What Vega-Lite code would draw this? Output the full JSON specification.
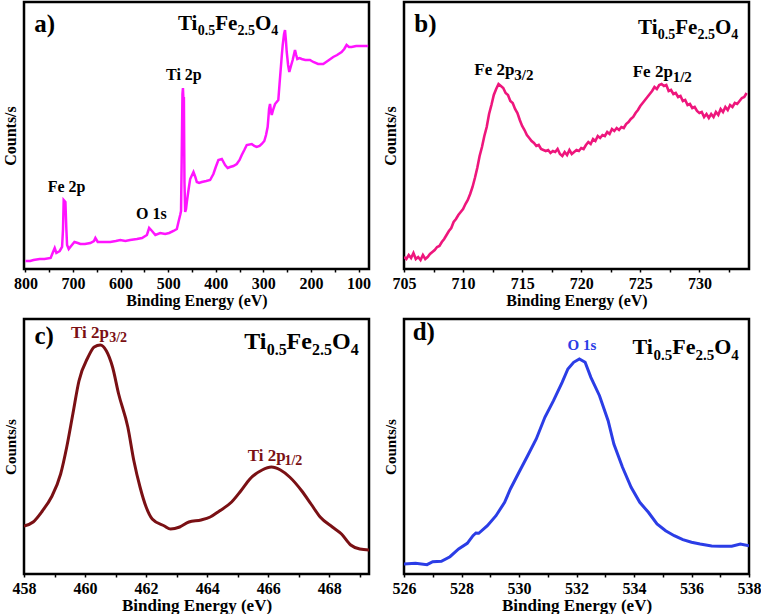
{
  "$schema": "https://vega.github.io/schema/vega-lite/v6.json",
  "background": "white",
  "padding": {"left": 0, "top": 0, "right": 0, "bottom": 0},
  "datasets": {
    "spectra": [
      {"panel": "a", "energy": 800, "counts": 8}, {"panel": "a", "energy": 790, "counts": 8}, {"panel": "a", "energy": 783, "counts": 9}, {"panel": "a", "energy": 770, "counts": 10},
      {"panel": "a", "energy": 760, "counts": 10}, {"panel": "a", "energy": 747, "counts": 11}, {"panel": "a", "energy": 742, "counts": 17}, {"panel": "a", "energy": 738.5, "counts": 21},
      {"panel": "a", "energy": 735, "counts": 16}, {"panel": "a", "energy": 728, "counts": 18}, {"panel": "a", "energy": 723, "counts": 22}, {"panel": "a", "energy": 721, "counts": 40},
      {"panel": "a", "energy": 719.6, "counts": 69}, {"panel": "a", "energy": 716, "counts": 67}, {"panel": "a", "energy": 714, "counts": 40}, {"panel": "a", "energy": 712.5, "counts": 24},
      {"panel": "a", "energy": 709, "counts": 20}, {"panel": "a", "energy": 704, "counts": 23}, {"panel": "a", "energy": 697, "counts": 27}, {"panel": "a", "energy": 690, "counts": 26},
      {"panel": "a", "energy": 684.6, "counts": 25}, {"panel": "a", "energy": 675, "counts": 25}, {"panel": "a", "energy": 663.6, "counts": 26}, {"panel": "a", "energy": 656, "counts": 28},
      {"panel": "a", "energy": 653, "counts": 31}, {"panel": "a", "energy": 648, "counts": 27}, {"panel": "a", "energy": 635, "counts": 27}, {"panel": "a", "energy": 621.7, "counts": 27},
      {"panel": "a", "energy": 610, "counts": 28}, {"panel": "a", "energy": 600.7, "counts": 29}, {"panel": "a", "energy": 590, "counts": 28}, {"panel": "a", "energy": 580, "counts": 29},
      {"panel": "a", "energy": 565.7, "counts": 30}, {"panel": "a", "energy": 555, "counts": 31}, {"panel": "a", "energy": 544.7, "counts": 34}, {"panel": "a", "energy": 540, "counts": 41},
      {"panel": "a", "energy": 534, "counts": 38}, {"panel": "a", "energy": 527, "counts": 34}, {"panel": "a", "energy": 516.8, "counts": 36}, {"panel": "a", "energy": 506.3, "counts": 35},
      {"panel": "a", "energy": 498, "counts": 36}, {"panel": "a", "energy": 488.9, "counts": 38}, {"panel": "a", "energy": 481.8, "counts": 40}, {"panel": "a", "energy": 478.4, "counts": 47},
      {"panel": "a", "energy": 474.8, "counts": 54}, {"panel": "a", "energy": 473, "counts": 58}, {"panel": "a", "energy": 471.7, "counts": 107}, {"panel": "a", "energy": 470, "counts": 175},
      {"panel": "a", "energy": 469, "counts": 181}, {"panel": "a", "energy": 468, "counts": 170}, {"panel": "a", "energy": 467, "counts": 172}, {"panel": "a", "energy": 466.3, "counts": 120},
      {"panel": "a", "energy": 465.8, "counts": 87}, {"panel": "a", "energy": 464.3, "counts": 57}, {"panel": "a", "energy": 462.5, "counts": 60}, {"panel": "a", "energy": 460.8, "counts": 67},
      {"panel": "a", "energy": 457, "counts": 80}, {"panel": "a", "energy": 453.8, "counts": 90}, {"panel": "a", "energy": 446.9, "counts": 97}, {"panel": "a", "energy": 443, "counts": 92},
      {"panel": "a", "energy": 439.8, "counts": 87}, {"panel": "a", "energy": 435, "counts": 86}, {"panel": "a", "energy": 429.3, "counts": 87}, {"panel": "a", "energy": 420, "counts": 88},
      {"panel": "a", "energy": 411.9, "counts": 89}, {"panel": "a", "energy": 405, "counts": 95}, {"panel": "a", "energy": 400, "counts": 102}, {"panel": "a", "energy": 394.5, "counts": 109},
      {"panel": "a", "energy": 387.3, "counts": 110}, {"panel": "a", "energy": 380.4, "counts": 104}, {"panel": "a", "energy": 375, "counts": 101}, {"panel": "a", "energy": 370, "counts": 102},
      {"panel": "a", "energy": 363, "counts": 103}, {"panel": "a", "energy": 355.9, "counts": 105}, {"panel": "a", "energy": 350, "counts": 109}, {"panel": "a", "energy": 345.4, "counts": 114},
      {"panel": "a", "energy": 340, "counts": 119}, {"panel": "a", "energy": 334.9, "counts": 124}, {"panel": "a", "energy": 324.4, "counts": 125}, {"panel": "a", "energy": 319, "counts": 123},
      {"panel": "a", "energy": 313.9, "counts": 122}, {"panel": "a", "energy": 308, "counts": 123}, {"panel": "a", "energy": 303.4, "counts": 125}, {"panel": "a", "energy": 298, "counts": 128},
      {"panel": "a", "energy": 294.4, "counts": 134}, {"panel": "a", "energy": 291, "counts": 142}, {"panel": "a", "energy": 289.6, "counts": 150}, {"panel": "a", "energy": 288, "counts": 160},
      {"panel": "a", "energy": 286, "counts": 165}, {"panel": "a", "energy": 284, "counts": 158}, {"panel": "a", "energy": 282.4, "counts": 154}, {"panel": "a", "energy": 279, "counts": 160},
      {"panel": "a", "energy": 275.5, "counts": 165}, {"panel": "a", "energy": 272, "counts": 167}, {"panel": "a", "energy": 268.6, "counts": 169}, {"panel": "a", "energy": 266, "counts": 185},
      {"panel": "a", "energy": 263.5, "counts": 200}, {"panel": "a", "energy": 261, "counts": 215}, {"panel": "a", "energy": 259.3, "counts": 224}, {"panel": "a", "energy": 256.5, "counts": 235},
      {"panel": "a", "energy": 254.5, "counts": 239}, {"panel": "a", "energy": 252.5, "counts": 228}, {"panel": "a", "energy": 250.9, "counts": 217}, {"panel": "a", "energy": 248, "counts": 204},
      {"panel": "a", "energy": 245.5, "counts": 197}, {"panel": "a", "energy": 242, "counts": 203}, {"panel": "a", "energy": 238.4, "counts": 209}, {"panel": "a", "energy": 235.5, "counts": 215},
      {"panel": "a", "energy": 233.5, "counts": 219}, {"panel": "a", "energy": 231, "counts": 214}, {"panel": "a", "energy": 228.7, "counts": 210}, {"panel": "a", "energy": 224, "counts": 211},
      {"panel": "a", "energy": 219.5, "counts": 210}, {"panel": "a", "energy": 212, "counts": 209}, {"panel": "a", "energy": 202.1, "counts": 209}, {"panel": "a", "energy": 195, "counts": 207},
      {"panel": "a", "energy": 185, "counts": 205}, {"panel": "a", "energy": 174.2, "counts": 205}, {"panel": "a", "energy": 165, "counts": 208}, {"panel": "a", "energy": 153.2, "counts": 212},
      {"panel": "a", "energy": 145, "counts": 214}, {"panel": "a", "energy": 135.6, "counts": 217}, {"panel": "a", "energy": 130, "counts": 220}, {"panel": "a", "energy": 125.1, "counts": 224},
      {"panel": "a", "energy": 120, "counts": 222}, {"panel": "a", "energy": 114.6, "counts": 222}, {"panel": "a", "energy": 105, "counts": 223}, {"panel": "a", "energy": 97.2, "counts": 223},
      {"panel": "a", "energy": 88, "counts": 223}, {"panel": "a", "energy": 79.8, "counts": 223},

      {"panel": "b", "energy": 705.0, "counts": 12}, {"panel": "b", "energy": 705.2, "counts": 10}, {"panel": "b", "energy": 705.4, "counts": 14}, {"panel": "b", "energy": 705.6, "counts": 11},
      {"panel": "b", "energy": 705.8, "counts": 16}, {"panel": "b", "energy": 706.0, "counts": 10}, {"panel": "b", "energy": 706.2, "counts": 12}, {"panel": "b", "energy": 706.4, "counts": 9},
      {"panel": "b", "energy": 706.6, "counts": 14}, {"panel": "b", "energy": 706.8, "counts": 10}, {"panel": "b", "energy": 707.0, "counts": 12}, {"panel": "b", "energy": 707.2, "counts": 15},
      {"panel": "b", "energy": 707.4, "counts": 17}, {"panel": "b", "energy": 707.6, "counts": 19}, {"panel": "b", "energy": 707.8, "counts": 22}, {"panel": "b", "energy": 708.0, "counts": 23},
      {"panel": "b", "energy": 708.2, "counts": 27}, {"panel": "b", "energy": 708.4, "counts": 30}, {"panel": "b", "energy": 708.6, "counts": 34}, {"panel": "b", "energy": 708.8, "counts": 38},
      {"panel": "b", "energy": 709.0, "counts": 41}, {"panel": "b", "energy": 709.2, "counts": 47}, {"panel": "b", "energy": 709.4, "counts": 50}, {"panel": "b", "energy": 709.6, "counts": 54},
      {"panel": "b", "energy": 709.8, "counts": 57}, {"panel": "b", "energy": 710.0, "counts": 60}, {"panel": "b", "energy": 710.2, "counts": 65}, {"panel": "b", "energy": 710.4, "counts": 69},
      {"panel": "b", "energy": 710.6, "counts": 75}, {"panel": "b", "energy": 710.8, "counts": 82}, {"panel": "b", "energy": 711.0, "counts": 91}, {"panel": "b", "energy": 711.2, "counts": 101},
      {"panel": "b", "energy": 711.4, "counts": 113}, {"panel": "b", "energy": 711.6, "counts": 122}, {"panel": "b", "energy": 711.8, "counts": 133}, {"panel": "b", "energy": 712.0, "counts": 142},
      {"panel": "b", "energy": 712.2, "counts": 155}, {"panel": "b", "energy": 712.4, "counts": 164}, {"panel": "b", "energy": 712.6, "counts": 174}, {"panel": "b", "energy": 712.8, "counts": 180},
      {"panel": "b", "energy": 713.0, "counts": 185}, {"panel": "b", "energy": 713.2, "counts": 183}, {"panel": "b", "energy": 713.4, "counts": 181}, {"panel": "b", "energy": 713.6, "counts": 176},
      {"panel": "b", "energy": 713.8, "counts": 174}, {"panel": "b", "energy": 714.0, "counts": 168}, {"panel": "b", "energy": 714.2, "counts": 166}, {"panel": "b", "energy": 714.4, "counts": 160},
      {"panel": "b", "energy": 714.6, "counts": 156}, {"panel": "b", "energy": 714.8, "counts": 149}, {"panel": "b", "energy": 715.0, "counts": 143}, {"panel": "b", "energy": 715.2, "counts": 139},
      {"panel": "b", "energy": 715.4, "counts": 134}, {"panel": "b", "energy": 715.6, "counts": 131}, {"panel": "b", "energy": 715.8, "counts": 128}, {"panel": "b", "energy": 716.0, "counts": 126},
      {"panel": "b", "energy": 716.2, "counts": 123}, {"panel": "b", "energy": 716.4, "counts": 124}, {"panel": "b", "energy": 716.6, "counts": 120}, {"panel": "b", "energy": 716.8, "counts": 119},
      {"panel": "b", "energy": 717.0, "counts": 118}, {"panel": "b", "energy": 717.2, "counts": 119}, {"panel": "b", "energy": 717.4, "counts": 116}, {"panel": "b", "energy": 717.6, "counts": 118},
      {"panel": "b", "energy": 717.8, "counts": 117}, {"panel": "b", "energy": 718.0, "counts": 120}, {"panel": "b", "energy": 718.2, "counts": 115}, {"panel": "b", "energy": 718.4, "counts": 113},
      {"panel": "b", "energy": 718.6, "counts": 117}, {"panel": "b", "energy": 718.8, "counts": 114}, {"panel": "b", "energy": 719.0, "counts": 119}, {"panel": "b", "energy": 719.2, "counts": 115},
      {"panel": "b", "energy": 719.4, "counts": 117}, {"panel": "b", "energy": 719.6, "counts": 119}, {"panel": "b", "energy": 719.8, "counts": 118}, {"panel": "b", "energy": 720.0, "counts": 121},
      {"panel": "b", "energy": 720.2, "counts": 120}, {"panel": "b", "energy": 720.4, "counts": 124}, {"panel": "b", "energy": 720.6, "counts": 127}, {"panel": "b", "energy": 720.8, "counts": 125},
      {"panel": "b", "energy": 721.0, "counts": 130}, {"panel": "b", "energy": 721.2, "counts": 128}, {"panel": "b", "energy": 721.4, "counts": 133}, {"panel": "b", "energy": 721.6, "counts": 131},
      {"panel": "b", "energy": 721.8, "counts": 134}, {"panel": "b", "energy": 722.0, "counts": 133}, {"panel": "b", "energy": 722.2, "counts": 137}, {"panel": "b", "energy": 722.4, "counts": 135},
      {"panel": "b", "energy": 722.6, "counts": 140}, {"panel": "b", "energy": 722.8, "counts": 138}, {"panel": "b", "energy": 723.0, "counts": 141}, {"panel": "b", "energy": 723.2, "counts": 139},
      {"panel": "b", "energy": 723.4, "counts": 142}, {"panel": "b", "energy": 723.6, "counts": 141}, {"panel": "b", "energy": 723.8, "counts": 145}, {"panel": "b", "energy": 724.0, "counts": 147},
      {"panel": "b", "energy": 724.2, "counts": 150}, {"panel": "b", "energy": 724.4, "counts": 152}, {"panel": "b", "energy": 724.6, "counts": 156}, {"panel": "b", "energy": 724.8, "counts": 159},
      {"panel": "b", "energy": 725.0, "counts": 163}, {"panel": "b", "energy": 725.2, "counts": 166}, {"panel": "b", "energy": 725.4, "counts": 169}, {"panel": "b", "energy": 725.6, "counts": 172},
      {"panel": "b", "energy": 725.8, "counts": 175}, {"panel": "b", "energy": 726.0, "counts": 178}, {"panel": "b", "energy": 726.2, "counts": 182}, {"panel": "b", "energy": 726.4, "counts": 180},
      {"panel": "b", "energy": 726.6, "counts": 184}, {"panel": "b", "energy": 726.8, "counts": 185}, {"panel": "b", "energy": 727.0, "counts": 183}, {"panel": "b", "energy": 727.2, "counts": 184},
      {"panel": "b", "energy": 727.4, "counts": 178}, {"panel": "b", "energy": 727.6, "counts": 179}, {"panel": "b", "energy": 727.8, "counts": 175}, {"panel": "b", "energy": 728.0, "counts": 176},
      {"panel": "b", "energy": 728.2, "counts": 172}, {"panel": "b", "energy": 728.4, "counts": 173}, {"panel": "b", "energy": 728.6, "counts": 168}, {"panel": "b", "energy": 728.8, "counts": 169},
      {"panel": "b", "energy": 729.0, "counts": 164}, {"panel": "b", "energy": 729.2, "counts": 165}, {"panel": "b", "energy": 729.4, "counts": 161}, {"panel": "b", "energy": 729.6, "counts": 162},
      {"panel": "b", "energy": 729.8, "counts": 158}, {"panel": "b", "energy": 730.0, "counts": 156}, {"panel": "b", "energy": 730.2, "counts": 157}, {"panel": "b", "energy": 730.4, "counts": 152},
      {"panel": "b", "energy": 730.6, "counts": 155}, {"panel": "b", "energy": 730.8, "counts": 151}, {"panel": "b", "energy": 731.0, "counts": 155}, {"panel": "b", "energy": 731.2, "counts": 152},
      {"panel": "b", "energy": 731.4, "counts": 157}, {"panel": "b", "energy": 731.6, "counts": 154}, {"panel": "b", "energy": 731.8, "counts": 160}, {"panel": "b", "energy": 732.0, "counts": 157},
      {"panel": "b", "energy": 732.2, "counts": 162}, {"panel": "b", "energy": 732.4, "counts": 159}, {"panel": "b", "energy": 732.6, "counts": 164}, {"panel": "b", "energy": 732.8, "counts": 162},
      {"panel": "b", "energy": 733.0, "counts": 166}, {"panel": "b", "energy": 733.2, "counts": 165}, {"panel": "b", "energy": 733.4, "counts": 168}, {"panel": "b", "energy": 733.6, "counts": 171},
      {"panel": "b", "energy": 733.8, "counts": 172}, {"panel": "b", "energy": 734.0, "counts": 176},

      {"panel": "c", "energy": 458.0, "counts": 48}, {"panel": "c", "energy": 458.3, "counts": 52}, {"panel": "c", "energy": 458.6, "counts": 63}, {"panel": "c", "energy": 458.9, "counts": 77},
      {"panel": "c", "energy": 459.2, "counts": 100}, {"panel": "c", "energy": 459.4, "counts": 127}, {"panel": "c", "energy": 459.6, "counts": 160}, {"panel": "c", "energy": 459.8, "counts": 193},
      {"panel": "c", "energy": 460.1, "counts": 217}, {"panel": "c", "energy": 460.3, "counts": 227}, {"panel": "c", "energy": 460.5, "counts": 229}, {"panel": "c", "energy": 460.7, "counts": 223},
      {"panel": "c", "energy": 460.9, "counts": 207}, {"panel": "c", "energy": 461.1, "counts": 180}, {"panel": "c", "energy": 461.4, "counts": 147}, {"panel": "c", "energy": 461.6, "counts": 113},
      {"panel": "c", "energy": 461.8, "counts": 87}, {"panel": "c", "energy": 462.0, "counts": 67}, {"panel": "c", "energy": 462.2, "counts": 55}, {"panel": "c", "energy": 462.6, "counts": 48},
      {"panel": "c", "energy": 462.8, "counts": 45}, {"panel": "c", "energy": 463.1, "counts": 47}, {"panel": "c", "energy": 463.4, "counts": 52}, {"panel": "c", "energy": 463.8, "counts": 54},
      {"panel": "c", "energy": 464.1, "counts": 57}, {"panel": "c", "energy": 464.4, "counts": 63}, {"panel": "c", "energy": 464.8, "counts": 72}, {"panel": "c", "energy": 465.1, "counts": 83},
      {"panel": "c", "energy": 465.4, "counts": 95}, {"panel": "c", "energy": 465.8, "counts": 104}, {"panel": "c", "energy": 466.1, "counts": 107}, {"panel": "c", "energy": 466.4, "counts": 104},
      {"panel": "c", "energy": 466.7, "counts": 97}, {"panel": "c", "energy": 467.1, "counts": 83}, {"panel": "c", "energy": 467.4, "counts": 70}, {"panel": "c", "energy": 467.7, "counts": 57},
      {"panel": "c", "energy": 468.1, "counts": 47}, {"panel": "c", "energy": 468.4, "counts": 40}, {"panel": "c", "energy": 468.7, "counts": 29}, {"panel": "c", "energy": 469.0, "counts": 25},
      {"panel": "c", "energy": 469.3, "counts": 24},

      {"panel": "d", "energy": 526.0, "counts": 10}, {"panel": "d", "energy": 526.4, "counts": 10.7}, {"panel": "d", "energy": 526.8, "counts": 9.3}, {"panel": "d", "energy": 527.0, "counts": 12.3},
      {"panel": "d", "energy": 527.3, "counts": 12.7}, {"panel": "d", "energy": 527.6, "counts": 17.3}, {"panel": "d", "energy": 527.9, "counts": 25}, {"panel": "d", "energy": 528.2, "counts": 30.7},
      {"panel": "d", "energy": 528.4, "counts": 38.3}, {"panel": "d", "energy": 528.5, "counts": 41}, {"panel": "d", "energy": 528.6, "counts": 40.7}, {"panel": "d", "energy": 528.9, "counts": 48.3},
      {"panel": "d", "energy": 529.2, "counts": 58.3}, {"panel": "d", "energy": 529.5, "counts": 71.7}, {"panel": "d", "energy": 529.7, "counts": 85}, {"panel": "d", "energy": 530.0, "counts": 101.7},
      {"panel": "d", "energy": 530.3, "counts": 118.3}, {"panel": "d", "energy": 530.6, "counts": 135}, {"panel": "d", "energy": 530.9, "counts": 156.7}, {"panel": "d", "energy": 531.2, "counts": 173.3},
      {"panel": "d", "energy": 531.5, "counts": 191.7}, {"panel": "d", "energy": 531.7, "counts": 205}, {"panel": "d", "energy": 531.9, "counts": 211.7}, {"panel": "d", "energy": 532.1, "counts": 215},
      {"panel": "d", "energy": 532.3, "counts": 211.7}, {"panel": "d", "energy": 532.5, "counts": 196.7}, {"panel": "d", "energy": 532.8, "counts": 178.3}, {"panel": "d", "energy": 533.1, "counts": 153.3},
      {"panel": "d", "energy": 533.3, "counts": 130}, {"panel": "d", "energy": 533.6, "counts": 106.7}, {"panel": "d", "energy": 533.9, "counts": 86.7}, {"panel": "d", "energy": 534.2, "counts": 71.7},
      {"panel": "d", "energy": 534.5, "counts": 61.7}, {"panel": "d", "energy": 534.8, "counts": 50}, {"panel": "d", "energy": 535.1, "counts": 43.3}, {"panel": "d", "energy": 535.4, "counts": 38.3},
      {"panel": "d", "energy": 535.7, "counts": 34.3}, {"panel": "d", "energy": 536.0, "counts": 31.7}, {"panel": "d", "energy": 536.3, "counts": 30}, {"panel": "d", "energy": 536.7, "counts": 28},
      {"panel": "d", "energy": 537.0, "counts": 27.7}, {"panel": "d", "energy": 537.4, "counts": 27.7}, {"panel": "d", "energy": 537.7, "counts": 30}, {"panel": "d", "energy": 538.0, "counts": 28.3}
    ],
    "labels": [
      {"panel": "a", "kind": "tag", "energy": 781.4, "counts": 237, "text": "a)"},
      {"panel": "a", "kind": "main", "energy": 479.4, "counts": 239, "text": "Ti"},
      {"panel": "a", "kind": "sub", "energy": 437.8, "counts": 239, "text": "0.5"},
      {"panel": "a", "kind": "main", "energy": 401, "counts": 239, "text": "Fe"},
      {"panel": "a", "kind": "sub", "energy": 354.4, "counts": 239, "text": "2.5"},
      {"panel": "a", "kind": "main", "energy": 317.6, "counts": 239, "text": "O"},
      {"panel": "a", "kind": "sub", "energy": 283.4, "counts": 239, "text": "4"},
      {"panel": "a", "kind": "peak", "energy": 753.2, "counts": 77, "text": "Fe 2p"},
      {"panel": "a", "kind": "peak", "energy": 567.7, "counts": 50.3, "text": "O 1s"},
      {"panel": "a", "kind": "peak", "energy": 504.6, "counts": 188.7, "text": "Ti 2p"},

      {"panel": "b", "kind": "tag", "energy": 705.87, "counts": 237, "text": "b)"},
      {"panel": "b", "kind": "main", "energy": 724.81, "counts": 235, "text": "Ti"},
      {"panel": "b", "kind": "sub", "energy": 726.48, "counts": 235, "text": "0.5"},
      {"panel": "b", "kind": "main", "energy": 727.96, "counts": 235, "text": "Fe"},
      {"panel": "b", "kind": "sub", "energy": 729.84, "counts": 235, "text": "2.5"},
      {"panel": "b", "kind": "main", "energy": 731.32, "counts": 235, "text": "O"},
      {"panel": "b", "kind": "sub", "energy": 732.70, "counts": 235, "text": "4"},
      {"panel": "b", "kind": "peak", "energy": 710.95, "counts": 193.7, "text": "Fe 2p"},
      {"panel": "b", "kind": "peaksub", "energy": 714.34, "counts": 193.7, "text": "3/2"},
      {"panel": "b", "kind": "peak", "energy": 724.36, "counts": 192, "text": "Fe 2p"},
      {"panel": "b", "kind": "peaksub", "energy": 727.74, "counts": 192, "text": "1/2"},

      {"panel": "c", "kind": "tag", "energy": 458.34, "counts": 230.3, "text": "c)"},
      {"panel": "c", "kind": "main", "energy": 465.21, "counts": 225.3, "text": "Ti"},
      {"panel": "c", "kind": "sub", "energy": 465.95, "counts": 225.3, "text": "0.5"},
      {"panel": "c", "kind": "main", "energy": 466.60, "counts": 225.3, "text": "Fe"},
      {"panel": "c", "kind": "sub", "energy": 467.43, "counts": 225.3, "text": "2.5"},
      {"panel": "c", "kind": "main", "energy": 468.09, "counts": 225.3, "text": "O"},
      {"panel": "c", "kind": "sub", "energy": 468.70, "counts": 225.3, "text": "4"},
      {"panel": "c", "kind": "peak", "energy": 459.54, "counts": 236.3, "text": "Ti 2p"},
      {"panel": "c", "kind": "peaksub", "energy": 460.79, "counts": 236.3, "text": "3/2"},
      {"panel": "c", "kind": "peak", "energy": 465.33, "counts": 113, "text": "Ti 2p"},
      {"panel": "c", "kind": "peaksub", "energy": 466.53, "counts": 113, "text": "1/2"},

      {"panel": "d", "kind": "tag", "energy": 526.30, "counts": 233.7, "text": "d)"},
      {"panel": "d", "kind": "main", "energy": 533.95, "counts": 220, "text": "Ti"},
      {"panel": "d", "kind": "sub", "energy": 534.68, "counts": 220, "text": "0.5"},
      {"panel": "d", "kind": "main", "energy": 535.33, "counts": 220, "text": "Fe"},
      {"panel": "d", "kind": "sub", "energy": 536.14, "counts": 220, "text": "2.5"},
      {"panel": "d", "kind": "main", "energy": 536.79, "counts": 220, "text": "O"},
      {"panel": "d", "kind": "sub", "energy": 537.38, "counts": 220, "text": "4"},
      {"panel": "d", "kind": "peak", "energy": 531.69, "counts": 223.7, "text": "O 1s"}
    ]
  },
  "columns": 2,
  "spacing": {"row": 50, "column": 35},
  "bounds": "flush",
  "concat": [
    {
      "width": 345,
      "height": 267,
      "encoding": {
        "x": {"field": "energy", "type": "quantitative", "scale": {"domain": [78, 803], "reverse": true, "nice": false, "zero": false},
              "axis": {"title": "Binding Energy (eV)", "values": [800, 750, 700, 650, 600, 550, 500, 450, 400, 350, 300, 250, 200, 150, 100], "labelExpr": "datum.value % 100 == 0 ? datum.label : ''"}},
        "y": {"field": "counts", "type": "quantitative", "scale": {"domain": [0, 267], "nice": false, "zero": false}, "axis": {"title": "Counts/s", "titleFontSize": 16}}
      },
      "layer": [
        {"data": {"name": "spectra"}, "transform": [{"filter": "datum.panel == 'a'"}], "mark": {"type": "line", "color": "#FF14FF", "strokeWidth": 2.5, "clip": true}},
        {"data": {"name": "labels"}, "transform": [{"filter": "datum.panel == 'a' && datum.kind == 'tag'"}], "mark": {"type": "text", "fontSize": 25, "fontWeight": "bold", "color": "black"}, "encoding": {"text": {"field": "text"}}},
        {"data": {"name": "labels"}, "transform": [{"filter": "datum.panel == 'a' && datum.kind == 'main'"}], "mark": {"type": "text", "fontSize": 21, "fontWeight": "bold", "color": "black"}, "encoding": {"text": {"field": "text"}}},
        {"data": {"name": "labels"}, "transform": [{"filter": "datum.panel == 'a' && datum.kind == 'sub'"}], "mark": {"type": "text", "fontSize": 14, "fontWeight": "bold", "color": "black", "dy": 5}, "encoding": {"text": {"field": "text"}}},
        {"data": {"name": "labels"}, "transform": [{"filter": "datum.panel == 'a' && datum.kind == 'peak'"}], "mark": {"type": "text", "fontSize": 16, "fontWeight": "bold", "color": "black"}, "encoding": {"text": {"field": "text"}}}
      ]
    },
    {
      "width": 345,
      "height": 267,
      "encoding": {
        "x": {"field": "energy", "type": "quantitative", "scale": {"domain": [705, 734.2], "nice": false, "zero": false},
              "axis": {"title": "Binding Energy (eV)", "values": [705, 707.5, 710, 712.5, 715, 717.5, 720, 722.5, 725, 727.5, 730, 732.5], "labelExpr": "datum.value % 5 == 0 ? datum.label : ''"}},
        "y": {"field": "counts", "type": "quantitative", "scale": {"domain": [0, 267], "nice": false, "zero": false}, "axis": {"title": "Counts/s", "titleFontSize": 16}}
      },
      "layer": [
        {"data": {"name": "spectra"}, "transform": [{"filter": "datum.panel == 'b'"}], "mark": {"type": "line", "color": "#EE167C", "strokeWidth": 2.6, "clip": true}},
        {"data": {"name": "labels"}, "transform": [{"filter": "datum.panel == 'b' && datum.kind == 'tag'"}], "mark": {"type": "text", "fontSize": 25, "fontWeight": "bold", "color": "black"}, "encoding": {"text": {"field": "text"}}},
        {"data": {"name": "labels"}, "transform": [{"filter": "datum.panel == 'b' && datum.kind == 'main'"}], "mark": {"type": "text", "fontSize": 21, "fontWeight": "bold", "color": "black"}, "encoding": {"text": {"field": "text"}}},
        {"data": {"name": "labels"}, "transform": [{"filter": "datum.panel == 'b' && datum.kind == 'sub'"}], "mark": {"type": "text", "fontSize": 14, "fontWeight": "bold", "color": "black", "dy": 5}, "encoding": {"text": {"field": "text"}}},
        {"data": {"name": "labels"}, "transform": [{"filter": "datum.panel == 'b' && datum.kind == 'peak'"}], "mark": {"type": "text", "fontSize": 17, "fontWeight": "bold", "color": "black"}, "encoding": {"text": {"field": "text"}}},
        {"data": {"name": "labels"}, "transform": [{"filter": "datum.panel == 'b' && datum.kind == 'peaksub'"}], "mark": {"type": "text", "fontSize": 15, "fontWeight": "bold", "color": "black", "dy": 5}, "encoding": {"text": {"field": "text"}}}
      ]
    },
    {
      "width": 345,
      "height": 255,
      "encoding": {
        "x": {"field": "energy", "type": "quantitative", "scale": {"domain": [458, 469.3], "nice": false, "zero": false},
              "axis": {"title": "Binding Energy (eV)", "titleFontSize": 17, "values": [458, 459, 460, 461, 462, 463, 464, 465, 466, 467, 468, 469], "labelExpr": "datum.value % 2 == 0 ? datum.label : ''"}},
        "y": {"field": "counts", "type": "quantitative", "scale": {"domain": [0, 255], "nice": false, "zero": false}, "axis": {"title": "Counts/s", "titleFontSize": 15}}
      },
      "layer": [
        {"data": {"name": "spectra"}, "transform": [{"filter": "datum.panel == 'c'"}], "mark": {"type": "line", "color": "#7A1014", "strokeWidth": 3, "clip": true, "interpolate": "monotone"}},
        {"data": {"name": "labels"}, "transform": [{"filter": "datum.panel == 'c' && datum.kind == 'tag'"}], "mark": {"type": "text", "fontSize": 25, "fontWeight": "bold", "color": "black"}, "encoding": {"text": {"field": "text"}}},
        {"data": {"name": "labels"}, "transform": [{"filter": "datum.panel == 'c' && datum.kind == 'main'"}], "mark": {"type": "text", "fontSize": 24, "fontWeight": "bold", "color": "black"}, "encoding": {"text": {"field": "text"}}},
        {"data": {"name": "labels"}, "transform": [{"filter": "datum.panel == 'c' && datum.kind == 'sub'"}], "mark": {"type": "text", "fontSize": 16, "fontWeight": "bold", "color": "black", "dy": 6}, "encoding": {"text": {"field": "text"}}},
        {"data": {"name": "labels"}, "transform": [{"filter": "datum.panel == 'c' && datum.kind == 'peak'"}], "mark": {"type": "text", "fontSize": 17, "fontWeight": "bold", "color": "#7A1014"}, "encoding": {"text": {"field": "text"}}},
        {"data": {"name": "labels"}, "transform": [{"filter": "datum.panel == 'c' && datum.kind == 'peaksub'"}], "mark": {"type": "text", "fontSize": 14, "fontWeight": "bold", "color": "#7A1014", "dy": 4}, "encoding": {"text": {"field": "text"}}}
      ]
    },
    {
      "width": 345,
      "height": 255,
      "encoding": {
        "x": {"field": "energy", "type": "quantitative", "scale": {"domain": [526, 538], "nice": false, "zero": false},
              "axis": {"title": "Binding Energy (eV)", "titleFontSize": 17, "values": [526, 527, 528, 529, 530, 531, 532, 533, 534, 535, 536, 537, 538], "labelExpr": "datum.value % 2 == 0 ? datum.label : ''"}},
        "y": {"field": "counts", "type": "quantitative", "scale": {"domain": [0, 255], "nice": false, "zero": false}, "axis": {"title": "Counts/s", "titleFontSize": 15}}
      },
      "layer": [
        {"data": {"name": "spectra"}, "transform": [{"filter": "datum.panel == 'd'"}], "mark": {"type": "line", "color": "#2B3DE6", "strokeWidth": 3, "clip": true}},
        {"data": {"name": "labels"}, "transform": [{"filter": "datum.panel == 'd' && datum.kind == 'tag'"}], "mark": {"type": "text", "fontSize": 25, "fontWeight": "bold", "color": "black"}, "encoding": {"text": {"field": "text"}}},
        {"data": {"name": "labels"}, "transform": [{"filter": "datum.panel == 'd' && datum.kind == 'main'"}], "mark": {"type": "text", "fontSize": 22, "fontWeight": "bold", "color": "black"}, "encoding": {"text": {"field": "text"}}},
        {"data": {"name": "labels"}, "transform": [{"filter": "datum.panel == 'd' && datum.kind == 'sub'"}], "mark": {"type": "text", "fontSize": 15, "fontWeight": "bold", "color": "black", "dy": 6}, "encoding": {"text": {"field": "text"}}},
        {"data": {"name": "labels"}, "transform": [{"filter": "datum.panel == 'd' && datum.kind == 'peak'"}], "mark": {"type": "text", "fontSize": 15, "fontWeight": "bold", "color": "#2B3DE6"}, "encoding": {"text": {"field": "text"}}}
      ]
    }
  ],
  "config": {
    "font": "Liberation Serif",
    "view": {"stroke": "black", "strokeWidth": 2.5},
    "text": {"font": "Liberation Serif", "baseline": "alphabetic", "align": "left"},
    "axis": {
      "labelFont": "Liberation Serif", "labelFontWeight": "bold", "labelFontSize": 16, "labelColor": "black",
      "labelOverlap": false, "labelFlush": false, "labelPadding": 3,
      "titleFont": "Liberation Serif", "titleFontWeight": "bold", "titleFontSize": 16, "titleColor": "black", "titlePadding": 1,
      "grid": false, "domain": false, "tickColor": "black", "tickWidth": 1.5, "tickSize": 3
    },
    "axisY": {"labels": false, "ticks": false, "titlePadding": 6}
  }
}
